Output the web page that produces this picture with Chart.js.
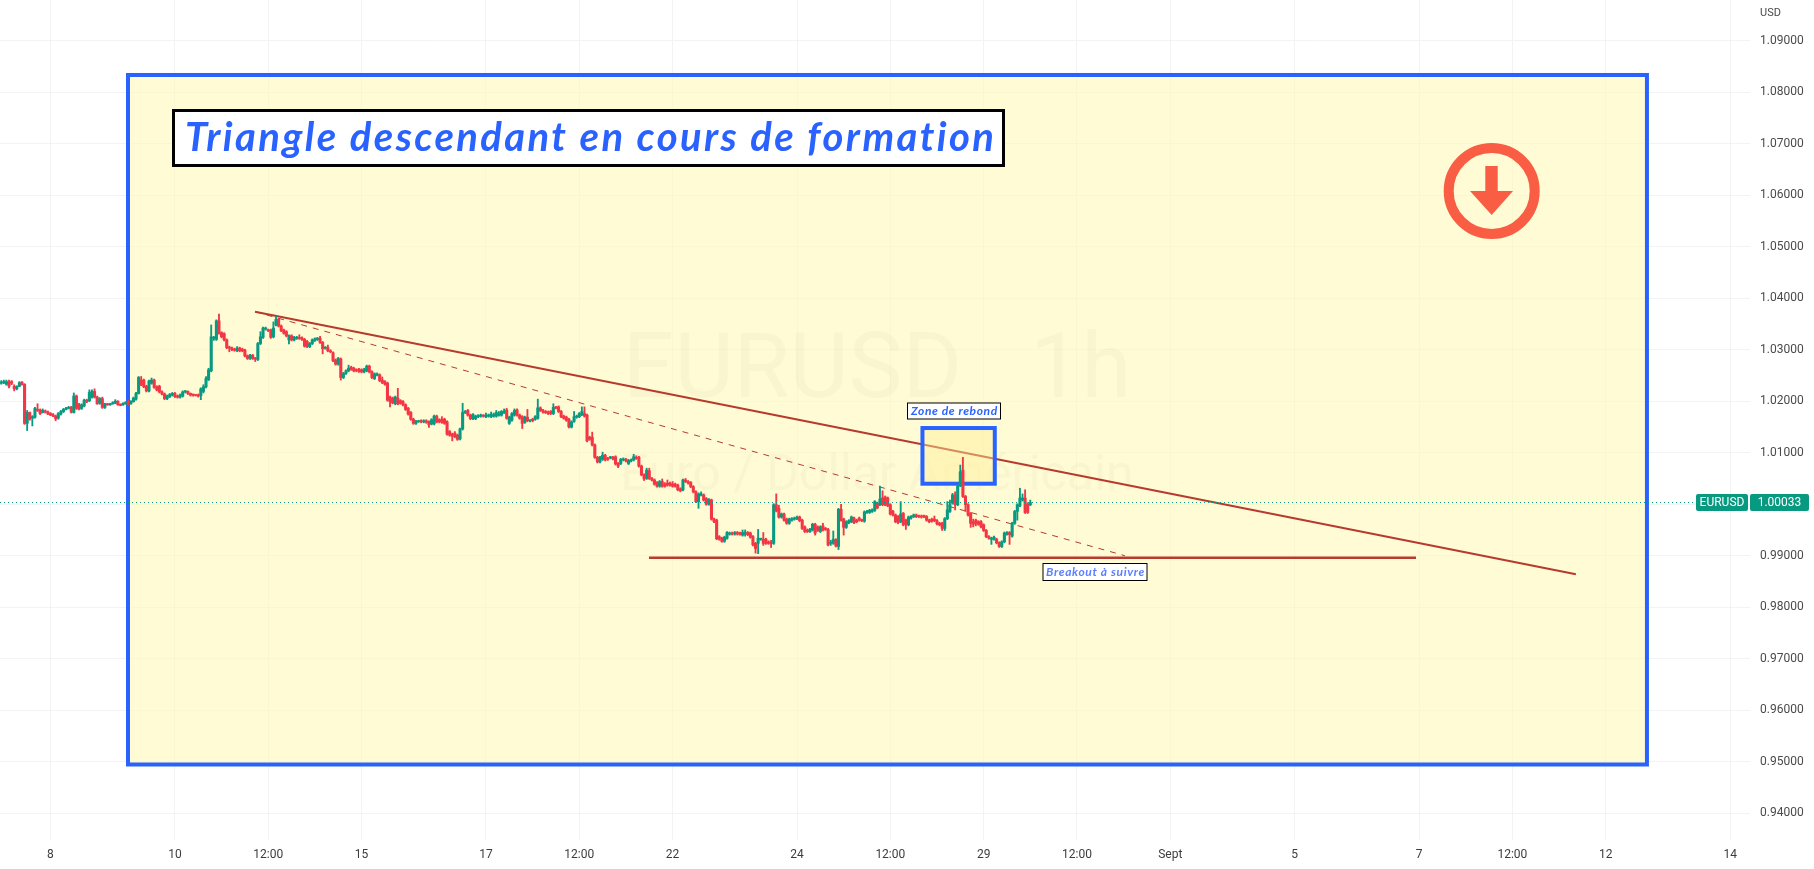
<!DOCTYPE html>
<html>
<head>
<meta charset="utf-8">
<title>EURUSD 1h</title>
<script src="https://cdn.jsdelivr.net/npm/chart.js@4/dist/chart.umd.js"></script>
<style>
  html, body { margin: 0; padding: 0; background: #fff; }
  canvas { display: block; }
</style>
</head>
<body>
<canvas id="myChart" width="1814" height="869"></canvas>
<script>
// hourly bars, bar 0 is the candle on the "8" gridline
const firstBar = -19;

const opens = [
  1.0235,1.0236,1.0233,1.0237,1.0238,1.0229,1.0224,1.0229,1.0237,1.0233,
  1.0157,1.0178,1.0167,1.0169,1.0184,1.0183,1.0178,1.0180,1.0179,1.0176,
  1.0174,1.0171,1.0167,1.0175,1.0180,1.0184,1.0186,1.0188,1.0178,1.0210,
  1.0193,1.0186,1.0191,1.0202,1.0201,1.0208,1.0219,1.0208,1.0196,1.0205,
  1.0188,1.0195,1.0193,1.0195,1.0196,1.0200,1.0194,1.0193,1.0195,1.0199,
  1.0195,1.0199,1.0204,1.0215,1.0241,1.0241,1.0229,1.0220,1.0235,1.0241,
  1.0228,1.0229,1.0218,1.0214,1.0205,1.0209,1.0212,1.0215,1.0210,1.0208,
  1.0210,1.0218,1.0219,1.0215,1.0213,1.0212,1.0212,1.0211,1.0219,1.0228,
  1.0242,1.0259,1.0322,1.0320,1.0356,1.0333,1.0331,1.0319,1.0305,1.0303,
  1.0301,1.0298,1.0303,1.0301,1.0299,1.0288,1.0283,1.0289,1.0283,1.0281,
  1.0312,1.0324,1.0340,1.0338,1.0338,1.0325,1.0348,1.0359,1.0346,1.0338,
  1.0335,1.0319,1.0327,1.0319,1.0322,1.0324,1.0323,1.0320,1.0316,1.0306,
  1.0312,1.0318,1.0320,1.0322,1.0314,1.0303,1.0304,1.0298,1.0294,1.0280,
  1.0272,1.0282,1.0246,1.0254,1.0259,1.0266,1.0264,1.0261,1.0262,1.0261,
  1.0257,1.0259,1.0268,1.0257,1.0244,1.0251,1.0251,1.0241,1.0238,1.0235,
  1.0208,1.0206,1.0195,1.0206,1.0201,1.0199,1.0193,1.0186,1.0178,1.0165,
  1.0157,1.0160,1.0161,1.0160,1.0162,1.0160,1.0156,1.0156,1.0171,1.0164,
  1.0165,1.0165,1.0160,1.0141,1.0136,1.0138,1.0134,1.0127,1.0146,1.0178,
  1.0182,1.0173,1.0166,1.0166,1.0170,1.0171,1.0172,1.0170,1.0171,1.0170,
  1.0171,1.0171,1.0173,1.0173,1.0178,1.0183,1.0157,1.0163,1.0173,1.0183,
  1.0173,1.0170,1.0159,1.0169,1.0162,1.0165,1.0165,1.0167,1.0187,1.0182,
  1.0180,1.0179,1.0180,1.0176,1.0188,1.0189,1.0180,1.0171,1.0169,1.0165,
  1.0150,1.0161,1.0169,1.0170,1.0174,1.0176,1.0173,1.0130,1.0130,1.0115,
  1.0091,1.0082,1.0087,1.0095,1.0089,1.0090,1.0091,1.0092,1.0079,1.0079,
  1.0086,1.0087,1.0079,1.0084,1.0086,1.0091,1.0091,1.0074,1.0057,1.0050,
  1.0065,1.0050,1.0047,1.0042,1.0035,1.0044,1.0039,1.0041,1.0041,1.0039,
  1.0039,1.0037,1.0030,1.0028,1.0047,1.0044,1.0042,1.0034,1.0024,1.0005,
  1.0018,1.0018,1.0011,1.0000,1.0008,0.9971,0.9969,0.9937,0.9934,0.9928,
  0.9934,0.9942,0.9944,0.9942,0.9945,0.9944,0.9940,0.9942,0.9945,0.9944,
  0.9937,0.9924,0.9924,0.9932,0.9932,0.9932,0.9927,0.9925,0.9924,0.9999,
  0.9992,0.9975,0.9981,0.9971,0.9963,0.9969,0.9971,0.9972,0.9975,0.9969,
  0.9956,0.9950,0.9947,0.9950,0.9961,0.9956,0.9947,0.9958,0.9953,0.9951,
  0.9924,0.9924,0.9931,0.9918,0.9990,0.9971,0.9955,0.9964,0.9966,0.9973,
  0.9969,0.9973,0.9969,0.9967,0.9984,0.9984,0.9986,0.9988,1.0002,0.9999,
  1.0012,1.0014,1.0012,0.9999,0.9986,0.9979,0.9976,0.9966,0.9982,0.9969,
  0.9960,0.9973,0.9976,0.9979,0.9977,0.9977,0.9977,0.9976,0.9969,0.9971,
  0.9971,0.9968,0.9963,0.9963,0.9953,0.9972,0.9986,1.0002,1.0018,0.9999,
  1.0036,1.0066,1.0015,0.9999,0.9982,0.9966,0.9969,0.9966,0.9966,0.9960,
  0.9949,0.9937,0.9932,0.9932,0.9932,0.9925,0.9918,0.9927,0.9942,0.9945,
  0.9938,0.9963,0.9986,0.9997,1.0008,1.0012,1.0000,0.9999
];
const closes = [
  1.0237,1.0238,1.0238,1.0229,1.0235,1.0224,1.0229,1.0236,1.0233,1.0157,
  1.0178,1.0165,1.0170,1.0186,1.0182,1.0176,1.0182,1.0179,1.0175,1.0173,
  1.0171,1.0166,1.0176,1.0180,1.0184,1.0186,1.0188,1.0179,1.0210,1.0186,
  1.0185,1.0193,1.0202,1.0199,1.0217,1.0219,1.0208,1.0195,1.0205,1.0188,
  1.0195,1.0193,1.0195,1.0197,1.0200,1.0193,1.0192,1.0196,1.0198,1.0194,
  1.0200,1.0206,1.0215,1.0246,1.0232,1.0228,1.0220,1.0239,1.0241,1.0227,
  1.0222,1.0218,1.0214,1.0205,1.0210,1.0213,1.0215,1.0209,1.0208,1.0212,
  1.0218,1.0219,1.0215,1.0212,1.0212,1.0211,1.0210,1.0224,1.0228,1.0244,
  1.0261,1.0325,1.0324,1.0356,1.0332,1.0325,1.0319,1.0304,1.0303,1.0300,
  1.0299,1.0303,1.0298,1.0298,1.0288,1.0283,1.0289,1.0283,1.0282,1.0312,
  1.0325,1.0342,1.0342,1.0337,1.0324,1.0342,1.0359,1.0346,1.0337,1.0332,
  1.0327,1.0327,1.0319,1.0324,1.0324,1.0322,1.0320,1.0307,1.0306,1.0312,
  1.0319,1.0321,1.0322,1.0314,1.0302,1.0304,1.0298,1.0296,1.0279,1.0272,
  1.0283,1.0246,1.0254,1.0259,1.0264,1.0262,1.0259,1.0259,1.0258,1.0257,
  1.0262,1.0268,1.0257,1.0246,1.0253,1.0253,1.0240,1.0236,1.0233,1.0202,
  1.0199,1.0197,1.0208,1.0195,1.0196,1.0193,1.0184,1.0175,1.0165,1.0157,
  1.0161,1.0161,1.0160,1.0162,1.0159,1.0154,1.0164,1.0171,1.0160,1.0160,
  1.0159,1.0157,1.0136,1.0134,1.0132,1.0131,1.0126,1.0146,1.0178,1.0180,
  1.0173,1.0166,1.0174,1.0171,1.0172,1.0173,1.0171,1.0173,1.0171,1.0175,
  1.0174,1.0178,1.0175,1.0180,1.0180,1.0167,1.0169,1.0176,1.0182,1.0173,
  1.0167,1.0157,1.0169,1.0162,1.0162,1.0162,1.0170,1.0187,1.0182,1.0179,
  1.0178,1.0176,1.0176,1.0188,1.0187,1.0180,1.0170,1.0167,1.0163,1.0150,
  1.0160,1.0170,1.0171,1.0176,1.0180,1.0171,1.0123,1.0126,1.0115,1.0091,
  1.0082,1.0091,1.0095,1.0086,1.0087,1.0091,1.0088,1.0078,1.0074,1.0087,
  1.0087,1.0084,1.0085,1.0086,1.0092,1.0089,1.0074,1.0057,1.0049,1.0066,
  1.0050,1.0047,1.0039,1.0035,1.0044,1.0035,1.0035,1.0037,1.0037,1.0035,
  1.0035,1.0028,1.0026,1.0047,1.0044,1.0041,1.0034,1.0024,1.0005,1.0020,
  1.0018,1.0008,1.0000,1.0009,0.9971,0.9966,0.9933,0.9932,0.9928,0.9936,
  0.9945,0.9944,0.9942,0.9945,0.9942,0.9942,0.9945,0.9945,0.9941,0.9936,
  0.9921,0.9914,0.9934,0.9932,0.9924,0.9924,0.9924,0.9924,0.9999,0.9987,
  0.9975,0.9981,0.9969,0.9963,0.9971,0.9972,0.9973,0.9975,0.9968,0.9953,
  0.9947,0.9947,0.9951,0.9961,0.9944,0.9949,0.9956,0.9950,0.9951,0.9921,
  0.9925,0.9932,0.9919,0.9990,0.9969,0.9955,0.9966,0.9968,0.9975,0.9964,
  0.9966,0.9969,0.9968,0.9985,0.9986,0.9988,0.9989,1.0005,0.9993,1.0010,
  0.9999,0.9999,0.9997,0.9981,0.9979,0.9966,0.9964,0.9981,0.9960,0.9960,
  0.9975,0.9976,0.9979,0.9976,0.9976,0.9975,0.9976,0.9969,0.9966,0.9967,
  0.9968,0.9962,0.9960,0.9953,0.9972,0.9989,0.9999,1.0018,0.9999,1.0036,
  1.0063,1.0015,0.9999,0.9979,0.9963,0.9961,0.9963,0.9961,0.9956,0.9949,
  0.9937,0.9934,0.9934,0.9936,0.9925,0.9918,0.9927,0.9944,0.9945,0.9941,
  0.9963,0.9986,0.9999,1.0012,1.0012,0.9984,0.9984,1.0003
];
const highs = [
  1.0240,1.0241,1.0241,1.0241,1.0240,1.0232,1.0230,1.0238,1.0238,1.0234,
  1.0182,1.0179,1.0172,1.0188,1.0195,1.0185,1.0185,1.0183,1.0181,1.0178,
  1.0176,1.0173,1.0178,1.0182,1.0186,1.0188,1.0190,1.0190,1.0216,1.0212,
  1.0196,1.0195,1.0204,1.0204,1.0222,1.0222,1.0224,1.0210,1.0207,1.0208,
  1.0196,1.0196,1.0196,1.0199,1.0203,1.0201,1.0195,1.0197,1.0199,1.0202,
  1.0201,1.0208,1.0217,1.0248,1.0248,1.0243,1.0231,1.0241,1.0245,1.0243,
  1.0230,1.0231,1.0220,1.0216,1.0212,1.0215,1.0217,1.0217,1.0212,1.0214,
  1.0220,1.0221,1.0220,1.0216,1.0214,1.0213,1.0214,1.0226,1.0232,1.0248,
  1.0264,1.0348,1.0326,1.0358,1.0369,1.0335,1.0333,1.0321,1.0307,1.0305,
  1.0303,1.0306,1.0305,1.0303,1.0301,1.0290,1.0291,1.0291,1.0285,1.0314,
  1.0335,1.0344,1.0344,1.0340,1.0340,1.0354,1.0365,1.0361,1.0348,1.0340,
  1.0337,1.0329,1.0329,1.0326,1.0326,1.0329,1.0325,1.0322,1.0318,1.0314,
  1.0321,1.0323,1.0324,1.0326,1.0316,1.0306,1.0309,1.0300,1.0296,1.0282,
  1.0285,1.0284,1.0256,1.0261,1.0270,1.0268,1.0266,1.0263,1.0264,1.0263,
  1.0264,1.0270,1.0270,1.0259,1.0255,1.0255,1.0253,1.0247,1.0240,1.0237,
  1.0210,1.0208,1.0210,1.0225,1.0203,1.0201,1.0195,1.0188,1.0180,1.0167,
  1.0163,1.0163,1.0164,1.0164,1.0164,1.0162,1.0166,1.0173,1.0173,1.0166,
  1.0170,1.0167,1.0162,1.0143,1.0138,1.0141,1.0136,1.0148,1.0196,1.0182,
  1.0184,1.0175,1.0176,1.0173,1.0174,1.0175,1.0174,1.0177,1.0175,1.0179,
  1.0177,1.0182,1.0180,1.0182,1.0185,1.0186,1.0171,1.0178,1.0185,1.0185,
  1.0175,1.0172,1.0171,1.0184,1.0164,1.0167,1.0172,1.0204,1.0189,1.0184,
  1.0182,1.0181,1.0182,1.0195,1.0190,1.0191,1.0182,1.0173,1.0171,1.0167,
  1.0162,1.0180,1.0173,1.0178,1.0189,1.0189,1.0175,1.0132,1.0140,1.0117,
  1.0093,1.0093,1.0101,1.0097,1.0091,1.0093,1.0093,1.0094,1.0081,1.0089,
  1.0090,1.0089,1.0087,1.0088,1.0097,1.0094,1.0093,1.0076,1.0059,1.0070,
  1.0070,1.0052,1.0049,1.0044,1.0046,1.0049,1.0042,1.0047,1.0043,1.0044,
  1.0041,1.0039,1.0032,1.0049,1.0050,1.0046,1.0044,1.0036,1.0026,1.0022,
  1.0024,1.0020,1.0013,1.0011,1.0010,0.9973,0.9971,0.9939,0.9936,0.9938,
  0.9947,0.9946,0.9946,0.9947,0.9947,0.9946,0.9950,0.9950,0.9947,0.9946,
  0.9939,0.9926,0.9951,0.9934,0.9945,0.9934,0.9929,0.9930,1.0001,1.0020,
  0.9998,0.9983,0.9983,0.9973,0.9973,0.9974,0.9975,0.9977,0.9977,0.9971,
  0.9958,0.9952,0.9953,0.9963,0.9963,0.9958,0.9958,0.9963,0.9955,0.9953,
  0.9930,0.9948,0.9933,0.9992,1.0000,0.9973,0.9968,0.9970,0.9977,0.9975,
  0.9971,0.9975,0.9971,0.9987,0.9988,0.9990,0.9991,1.0007,1.0004,1.0035,
  1.0026,1.0016,1.0014,1.0001,0.9988,0.9981,0.9978,1.0005,0.9984,0.9971,
  0.9977,0.9978,0.9981,0.9981,0.9979,0.9979,0.9979,0.9978,0.9971,0.9973,
  0.9977,0.9970,0.9965,0.9965,0.9974,1.0005,1.0008,1.0021,1.0024,1.0038,
  1.0076,1.0091,1.0017,1.0001,0.9984,0.9971,0.9971,0.9968,0.9968,0.9962,
  0.9951,0.9939,0.9936,0.9938,0.9934,0.9927,0.9929,0.9946,0.9947,0.9947,
  0.9965,0.9988,1.0001,1.0031,1.0020,1.0028,1.0003,1.0008
];
const lows = [
  1.0233,1.0234,1.0231,1.0226,1.0232,1.0220,1.0222,1.0228,1.0231,1.0155,
  1.0143,1.0163,1.0152,1.0167,1.0180,1.0174,1.0177,1.0177,1.0174,1.0172,
  1.0170,1.0162,1.0165,1.0173,1.0178,1.0183,1.0185,1.0177,1.0177,1.0184,
  1.0183,1.0184,1.0189,1.0197,1.0199,1.0206,1.0206,1.0194,1.0194,1.0186,
  1.0186,1.0192,1.0192,1.0194,1.0195,1.0192,1.0191,1.0192,1.0194,1.0193,
  1.0194,1.0198,1.0202,1.0214,1.0230,1.0226,1.0218,1.0218,1.0233,1.0225,
  1.0220,1.0216,1.0212,1.0203,1.0203,1.0207,1.0210,1.0207,1.0206,1.0206,
  1.0208,1.0216,1.0213,1.0210,1.0210,1.0210,1.0208,1.0203,1.0216,1.0226,
  1.0240,1.0257,1.0318,1.0318,1.0330,1.0323,1.0317,1.0302,1.0296,1.0298,
  1.0297,1.0296,1.0296,1.0296,1.0286,1.0281,1.0281,1.0281,1.0277,1.0279,
  1.0310,1.0322,1.0338,1.0335,1.0322,1.0323,1.0346,1.0344,1.0335,1.0330,
  1.0325,1.0311,1.0317,1.0317,1.0320,1.0320,1.0318,1.0305,1.0304,1.0304,
  1.0310,1.0316,1.0318,1.0312,1.0292,1.0301,1.0296,1.0294,1.0277,1.0270,
  1.0270,1.0241,1.0244,1.0252,1.0257,1.0260,1.0257,1.0257,1.0256,1.0255,
  1.0255,1.0257,1.0255,1.0244,1.0242,1.0249,1.0238,1.0234,1.0231,1.0200,
  1.0189,1.0195,1.0193,1.0193,1.0194,1.0191,1.0182,1.0173,1.0163,1.0155,
  1.0155,1.0159,1.0158,1.0158,1.0157,1.0149,1.0154,1.0154,1.0158,1.0158,
  1.0157,1.0155,1.0134,1.0132,1.0123,1.0129,1.0124,1.0125,1.0144,1.0176,
  1.0171,1.0164,1.0164,1.0164,1.0168,1.0169,1.0169,1.0168,1.0169,1.0168,
  1.0169,1.0169,1.0171,1.0171,1.0176,1.0165,1.0155,1.0161,1.0171,1.0171,
  1.0165,1.0147,1.0157,1.0160,1.0160,1.0160,1.0163,1.0165,1.0180,1.0177,
  1.0176,1.0174,1.0174,1.0174,1.0185,1.0178,1.0168,1.0165,1.0161,1.0148,
  1.0148,1.0159,1.0167,1.0168,1.0172,1.0169,1.0121,1.0124,1.0113,1.0089,
  1.0080,1.0080,1.0085,1.0084,1.0085,1.0088,1.0086,1.0076,1.0071,1.0077,
  1.0084,1.0082,1.0077,1.0082,1.0084,1.0087,1.0072,1.0055,1.0046,1.0048,
  1.0048,1.0045,1.0037,1.0033,1.0033,1.0033,1.0033,1.0035,1.0035,1.0033,
  1.0033,1.0026,1.0024,1.0026,1.0042,1.0039,1.0032,1.0022,1.0003,0.9992,
  1.0016,1.0006,0.9998,0.9998,0.9969,0.9964,0.9931,0.9930,0.9926,0.9926,
  0.9932,0.9940,0.9940,0.9940,0.9940,0.9940,0.9938,0.9938,0.9939,0.9934,
  0.9919,0.9905,0.9904,0.9930,0.9920,0.9922,0.9922,0.9916,0.9922,0.9985,
  0.9973,0.9973,0.9967,0.9961,0.9961,0.9967,0.9969,0.9970,0.9966,0.9951,
  0.9945,0.9945,0.9945,0.9948,0.9940,0.9947,0.9945,0.9948,0.9949,0.9919,
  0.9920,0.9922,0.9917,0.9912,0.9967,0.9940,0.9953,0.9962,0.9964,0.9962,
  0.9964,0.9967,0.9966,0.9965,0.9982,0.9982,0.9984,0.9986,0.9991,0.9997,
  0.9997,0.9997,0.9995,0.9979,0.9977,0.9964,0.9962,0.9964,0.9958,0.9951,
  0.9958,0.9971,0.9974,0.9974,0.9974,0.9973,0.9974,0.9967,0.9964,0.9965,
  0.9966,0.9960,0.9958,0.9949,0.9949,0.9970,0.9984,1.0000,0.9989,0.9997,
  1.0034,1.0013,0.9986,0.9977,0.9955,0.9956,0.9958,0.9959,0.9954,0.9947,
  0.9935,0.9932,0.9922,0.9930,0.9923,0.9916,0.9916,0.9925,0.9940,0.9922,
  0.9936,0.9961,0.9969,0.9995,1.0006,0.9982,0.9982,0.9997
];

const priceTicks = [1.09,1.08,1.07,1.06,1.05,1.04,1.03,1.02,1.01,1.00,0.99,0.98,0.97,0.96,0.95,0.94];
const timeBars = [0,48,84,120,168,204,240,288,324,360,396,432,480,528,564,600,648];
const timeLabels = ["8","10","12:00","15","17","12:00","22","24","12:00","29","12:00","Sept","5","7","12:00","12","14"];

const lastPrice = 1.00033;
const symbolName = "EURUSD";
const titleText = "Triangle descendant en cours de formation";
const zoneText = "Zone de rebond";
const breakoutText = "Breakout à suivre";

// drawings, as [bar, price]
const trendLine = [[78.9, 1.03738], [588.5, 0.98639]];
const dashedLine = [[78.9, 1.03738], [414.5, 0.99000]];
const supportLine = [[230.9, 0.98961], [526.8, 0.98961]];
const bigBox = { left: 29.9, right: 615.9, top: 1.08334, bottom: 0.94946 };
const zoneBox = { left: 336.4, right: 364.3, top: 1.01479, bottom: 1.00398 };

const green = "#089981";
const red = "#F23645";
const blue = "#2962FF";
const brick = "#B73A2E";
const uiFont = "Roboto, sans-serif";

const toPoints = pts => pts.map(p => ({ x: p[0], y: p[1] }));
const bars = opens.map((o, i) => firstBar + i);
const candleColors = opens.map((o, i) => closes[i] >= o ? green : red);

function boxRect(chart, box) {
  const { x, y } = chart.scales;
  const l = x.getPixelForValue(box.left), t = y.getPixelForValue(box.top);
  return [l, t, x.getPixelForValue(box.right) - l, y.getPixelForValue(box.bottom) - t];
}

function textBox(ctx, text, font, spacing, color, rect, textX, textY, border) {
  ctx.fillStyle = "#fff";
  ctx.strokeStyle = "#000";
  ctx.lineWidth = border;
  ctx.fillRect(rect[0], rect[1], rect[2], rect[3]);
  ctx.strokeRect(rect[0], rect[1], rect[2], rect[3]);
  ctx.font = font;
  ctx.letterSpacing = spacing;
  ctx.fillStyle = color;
  ctx.textAlign = "left";
  ctx.textBaseline = "middle";
  ctx.fillText(text, textX, textY);
  ctx.letterSpacing = "0px";
}

const drawings = {
  id: "drawings",
  beforeDatasetsDraw(chart) {
    const ctx = chart.ctx;
    const r = boxRect(chart, bigBox);
    ctx.save();
    ctx.fillStyle = "rgba(255,247,178,0.55)";
    ctx.fillRect(r[0], r[1], r[2], r[3]);
    ctx.strokeStyle = blue;
    ctx.lineWidth = 4;
    ctx.strokeRect(r[0], r[1], r[2], r[3]);

    // watermark
    ctx.fillStyle = "rgba(120,110,60,0.045)";
    ctx.textAlign = "center";
    ctx.textBaseline = "middle";
    ctx.font = "91px " + uiFont;
    ctx.fillText("EURUSD   1h", 877, 374);
    ctx.font = "50px " + uiFont;
    ctx.fillText("Euro / Dollar Américain", 877, 477);
    ctx.restore();
  },
  beforeDatasetDraw(chart, args) {
    // zone box sits over the lines but under the candles
    if (args.index !== 3) return;
    const ctx = chart.ctx;
    const r = boxRect(chart, zoneBox);
    ctx.save();
    ctx.fillStyle = "rgba(255,240,150,0.45)";
    ctx.fillRect(r[0], r[1], r[2], r[3]);
    ctx.strokeStyle = blue;
    ctx.lineWidth = 4;
    ctx.strokeRect(r[0], r[1], r[2], r[3]);
    ctx.restore();
  },
  afterDatasetsDraw(chart) {
    const ctx = chart.ctx;
    ctx.save();
    textBox(ctx, titleText, "italic bold 40px Lato, sans-serif", "2.4px", blue, [173.5, 110.5, 830, 55], 185, 138, 3);
    textBox(ctx, zoneText, "italic bold 12px Lato, sans-serif", "0.6px", blue, [907.5, 403, 93, 16], 911, 411, 1);
    textBox(ctx, breakoutText, "italic bold 12px Lato, sans-serif", "0.65px", "#5B7FFF", [1043, 563.5, 104, 17], 1046, 572, 1);

    // arrow icon
    ctx.strokeStyle = "#F95D43";
    ctx.fillStyle = "#F95D43";
    ctx.lineWidth = 10;
    ctx.beginPath();
    ctx.arc(1491.7, 191, 43, 0, Math.PI * 2);
    ctx.stroke();
    ctx.fillRect(1485.3, 166, 12.4, 28);
    ctx.beginPath();
    ctx.moveTo(1470, 191);
    ctx.lineTo(1513, 191);
    ctx.lineTo(1491.7, 215);
    ctx.closePath();
    ctx.fill();

    // price scale extras
    ctx.fillStyle = "#4a4a4a";
    ctx.font = "11px " + uiFont;
    ctx.textAlign = "left";
    ctx.textBaseline = "middle";
    ctx.fillText("USD", 1760, 13);

    const y = chart.scales.y.getPixelForValue(lastPrice);
    ctx.fillStyle = "#fff";
    ctx.fillRect(1750, y - 9, 64, 18);
    ctx.fillStyle = green;
    ctx.beginPath();
    ctx.roundRect(1696, y - 8.5, 52, 17, 2);
    ctx.roundRect(1750, y - 8.5, 59, 17, 2);
    ctx.fill();
    ctx.fillStyle = "#fff";
    ctx.font = "12px " + uiFont;
    ctx.textAlign = "center";
    ctx.fillText(symbolName, 1722, y + 0.5);
    ctx.fillText(lastPrice.toFixed(5), 1779.5, y + 0.5);
    ctx.restore();
  }
};

new Chart(document.getElementById("myChart").getContext("2d"), {
  type: "bar",
  data: {
    datasets: [
      { type: "line", data: toPoints(trendLine), borderColor: brick, borderWidth: 2, pointRadius: 0, order: 6 },
      { type: "line", data: toPoints(dashedLine), borderColor: brick, borderWidth: 1, borderDash: [6, 6], pointRadius: 0, order: 5 },
      { type: "line", data: toPoints(supportLine), borderColor: brick, borderWidth: 2.5, pointRadius: 0, order: 4 },
      {
        data: bars.map((b, i) => ({ x: b, y: [lows[i], highs[i]] })),
        backgroundColor: candleColors, barThickness: 1.2, order: 3
      },
      {
        data: bars.map((b, i) => ({ x: b, y: [opens[i], closes[i]] })),
        backgroundColor: candleColors, barThickness: 2.4, minBarLength: 1, order: 2
      },
      {
        type: "line",
        data: [{ x: -19.48, y: lastPrice }, { x: 635.7, y: lastPrice }],
        borderColor: green, borderWidth: 1, borderDash: [1, 3], pointRadius: 0, order: 1
      }
    ]
  },
  options: {
    responsive: false,
    devicePixelRatio: 1,
    animation: false,
    layout: { padding: 0 },
    datasets: { bar: { grouped: false } },
    plugins: { legend: { display: false }, tooltip: { enabled: false } },
    scales: {
      x: {
        type: "linear",
        offset: false,
        min: -19.48,
        max: 655.66,
        border: { display: false },
        grid: { color: "#F2F3F4", drawTicks: false, offset: false },
        afterBuildTicks: axis => { axis.ticks = timeBars.map(v => ({ value: v })); },
        afterFit: axis => { axis.height = 29; axis.paddingLeft = 0; axis.paddingRight = 0; },
        ticks: {
          autoSkip: false,
          maxRotation: 0,
          padding: 8,
          color: "#3c3c3c",
          font: { family: uiFont, size: 12 },
          callback: v => timeLabels[timeBars.indexOf(v)]
        }
      },
      y: {
        position: "right",
        min: 0.9348,
        max: 1.0979,
        border: { display: false },
        grid: { color: "#F2F3F4", drawTicks: false },
        afterBuildTicks: axis => { axis.ticks = priceTicks.map(v => ({ value: v })); },
        afterFit: axis => { axis.width = 64; axis.paddingTop = 0; axis.paddingBottom = 0; },
        ticks: {
          autoSkip: false,
          crossAlign: "near",
          padding: 10,
          color: "#4a4a4a",
          font: { family: uiFont, size: 12 },
          callback: v => v.toFixed(5)
        }
      }
    }
  },
  plugins: [drawings]
});
</script>
</body>
</html>
